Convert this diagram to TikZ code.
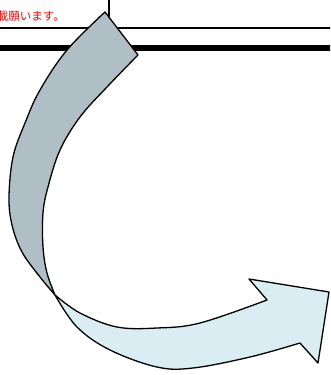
\documentclass[tikz,border=0pt]{standalone}
\usepackage{fontspec}
\newfontfamily\jpfont{Noto Sans CJK JP}[BoldFont={Noto Sans CJK JP Bold}]
\definecolor{ribbongray}{RGB}{176,190,197}
\definecolor{ribbonblue}{RGB}{218,237,243}
\definecolor{notered}{RGB}{255,0,0}
\tikzset{
  rule/.style={draw=black, line width=2pt},
  thickrule/.style={draw=black, line width=6pt},
  ribbon/.style={draw=black, line width=1.3pt, line join=round},
}
\begin{document}
\begin{tikzpicture}[x=1pt,y=-1pt]
\useasboundingbox (0,0) rectangle (330,375);
\clip (0,0) rectangle (330,375);
% header box and rules
\draw[rule] (109,-5) -- (109,28);
\draw[rule] (-5,28) -- (335,28);
\draw[thickrule] (-5,48) -- (335,48);
\node[anchor=base east, inner sep=0pt, text=notered, font=\jpfont\fontsize{11.5}{13}\selectfont] (note) at (65,20) {記載願います。};
% lower (light blue) part of the arrow
\filldraw[ribbon, fill=ribbonblue]
  plot[smooth, tension=0.6] coordinates {(55,295) (80,313) (117,327) (157,328) (200,323) (267,300)}
  -- (249,279) -- (329,292) -- (318,363) -- (300,343)
  -- plot[smooth, tension=0.6] coordinates {(300,343) (250,357) (193,368) (157,367) (110,350) (77,327) (55,295)}
  -- cycle;
% upper (grey) part of the arrow
\filldraw[ribbon, fill=ribbongray]
  plot[smooth, tension=0.6] coordinates {(105,12) (67,50) (40,90) (25,123) (13,157) (9,197) (12,225) (22,252) (40,277) (55,295)}
  -- plot[smooth, tension=0.6] coordinates {(55,295) (47,273) (43,247) (43,213) (48,187) (60,150) (80,117) (107,87) (138,55)}
  -- cycle;
\end{tikzpicture}
\end{document}
